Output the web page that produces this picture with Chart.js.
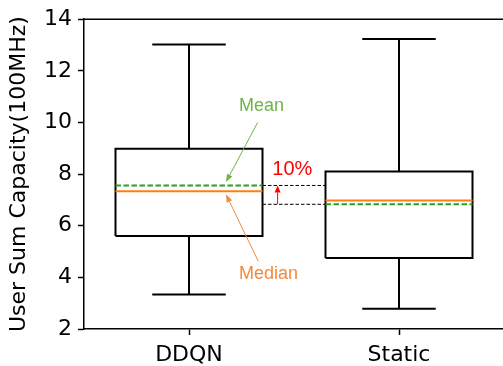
<!DOCTYPE html>
<html>
<head>
<meta charset="utf-8">
<script src="https://cdn.jsdelivr.net/npm/chart.js@4.4.1/dist/chart.umd.min.js"></script>
<style>
html,body{margin:0;padding:0;background:#fff;overflow:hidden;}
#wrap{width:505px;height:366px;}
</style>
</head>
<body>
<div id="wrap"><canvas id="c" width="505" height="366"></canvas></div>
<script>
// ---- data ----
const categories = ['DDQN', 'Static'];
const whiskerLow  = [3.34, 2.78];
const quartile1   = [5.60, 4.75];
const medians     = [7.34, 6.98];
const means       = [7.56, 6.83];
const quartile3   = [8.98, 8.10];
const whiskerHigh = [13.02, 13.23];
const yTicks = [2, 4, 6, 8, 10, 12, 14];
const gainLabel = '10%';

// ---- styles ----
const BOX_W = 0.70, CAP_W = 0.35;
const positions = categories.map((_, i) => i + 1);

const datasets = [];
positions.forEach((p, i) => {
  const h = BOX_W / 2, c = CAP_W / 2;
  datasets.push({
    data: [{x:p-h,y:quartile1[i]},{x:p+h,y:quartile1[i]},{x:p+h,y:quartile3[i]},{x:p-h,y:quartile3[i]},{x:p-h,y:quartile1[i]}],
    borderColor:'#000', borderWidth:2, borderJoinStyle:'miter', order:5
  });
  const wk = [[{x:p,y:quartile3[i]},{x:p,y:whiskerHigh[i]}],
              [{x:p-c,y:whiskerHigh[i]},{x:p+c,y:whiskerHigh[i]}],
              [{x:p,y:quartile1[i]},{x:p,y:whiskerLow[i]}],
              [{x:p-c,y:whiskerLow[i]},{x:p+c,y:whiskerLow[i]}]];
  wk.forEach(seg => datasets.push({data:seg, borderColor:'#000', borderWidth:2, order:5}));
  datasets.push({data:[{x:p-h,y:medians[i]},{x:p+h,y:medians[i]}], borderColor:'#ff7f0e', borderWidth:2, order:2});
  datasets.push({data:[{x:p-h,y:means[i]},{x:p+h,y:means[i]}], borderColor:'#2ca02c', borderWidth:2, borderDash:[5.5,2.5], order:1});
});
// reference dashed lines between the boxes at each mean
[means[0], means[1]].forEach(m => datasets.push({
  data:[{x:positions[0]+BOX_W/2,y:m},{x:positions[1]-BOX_W/2,y:m}],
  borderColor:'#000', borderWidth:1, borderDash:[3.5,2], order:6
}));
datasets.forEach(d => { d.showLine = true; d.pointRadius = 0; d.pointHoverRadius = 0; d.fill = false; d.tension = 0; });

function arrow(ctx, x1, y1, x2, y2, color, len, wid) {
  const a = Math.atan2(y2 - y1, x2 - x1);
  const bx = x2 - len * Math.cos(a), by = y2 - len * Math.sin(a);
  ctx.save();
  ctx.strokeStyle = color; ctx.fillStyle = color; ctx.lineWidth = 1;
  ctx.beginPath(); ctx.moveTo(x1, y1); ctx.lineTo(bx, by); ctx.stroke();
  ctx.beginPath();
  ctx.moveTo(x2, y2);
  ctx.lineTo(bx + wid/2 * Math.sin(a), by - wid/2 * Math.cos(a));
  ctx.lineTo(bx - wid/2 * Math.sin(a), by + wid/2 * Math.cos(a));
  ctx.closePath(); ctx.fill();
  ctx.restore();
}

const framePlugin = {
  id: 'frame',
  afterDatasetsDraw(chart) {
    const {ctx, chartArea: a, scales: {x, y}} = chart;
    ctx.save();
    ctx.strokeStyle = '#000'; ctx.lineWidth = 1.5;
    ctx.beginPath(); ctx.moveTo(a.left, a.top); ctx.lineTo(a.right, a.top); ctx.lineTo(a.right, a.bottom); ctx.stroke();

    const green = '#6fb446', orange = '#f5883c';
    ctx.font = '18px "Liberation Sans", Arial, sans-serif';
    ctx.textAlign = 'left'; ctx.textBaseline = 'middle';
    ctx.fillStyle = green;
    ctx.fillText('Mean', x.getPixelForValue(1.238), y.getPixelForValue(10.63));
    ctx.fillStyle = orange;
    ctx.fillText('Median', x.getPixelForValue(1.238), y.getPixelForValue(4.12));
    arrow(ctx, x.getPixelForValue(1.327), y.getPixelForValue(10.0), x.getPixelForValue(1.176), y.getPixelForValue(means[0] + 0.13), green, 8, 6);
    arrow(ctx, x.getPixelForValue(1.330), y.getPixelForValue(4.62), x.getPixelForValue(1.176), y.getPixelForValue(medians[0] - 0.12), orange, 8, 6);

    ctx.fillStyle = '#ff0000';
    ctx.font = '20px "Liberation Sans", Arial, sans-serif';
    ctx.fillText(gainLabel, x.getPixelForValue(1.397), y.getPixelForValue(8.17));
    const ax = x.getPixelForValue(1.422);
    arrow(ctx, ax, y.getPixelForValue(means[1]), ax, y.getPixelForValue(means[0]), '#ff0000', 7, 6);
    ctx.restore();
  }
};

const tickFont = {family: '"DejaVu Sans", sans-serif', size: 22};
new Chart(document.getElementById('c'), {
  type: 'scatter',
  data: { datasets },
  options: {
    responsive: false, animation: false, devicePixelRatio: 1,
    layout: { padding: {left: 0, top: 16, right: 1, bottom: 0} },
    plugins: { legend: {display: false}, tooltip: {enabled: false} },
    scales: {
      x: {
        type: 'linear', min: 0.5, max: 2.5,
        afterBuildTicks: s => { s.ticks = positions.map(v => ({value: v})); },
        afterFit: s => { s.height = 37; },
        ticks: { callback: v => categories[v - 1], font: tickFont, color: '#000', padding: 7, maxRotation: 0 },
        grid: { display: true, drawOnChartArea: false, drawTicks: true, tickLength: 6, tickColor: '#000', tickWidth: 1.5 },
        border: { display: true, color: '#000', width: 1.5 }
      },
      y: {
        type: 'linear', min: 2, max: 14,
        afterBuildTicks: s => { s.ticks = yTicks.map(v => ({value: v})); },
        afterFit: s => { s.width = 84; },
        ticks: { font: tickFont, color: '#000', padding: 6 },
        grid: { display: true, drawOnChartArea: false, drawTicks: true, tickLength: 6, tickColor: '#000', tickWidth: 1.5 },
        border: { display: true, color: '#000', width: 1.5 },
        title: { display: true, text: 'User Sum Capacity(100MHz)', font: tickFont, color: '#000', padding: {top: 6.5, bottom: 0} }
      }
    }
  },
  plugins: [framePlugin]
});
</script>
</body>
</html>
